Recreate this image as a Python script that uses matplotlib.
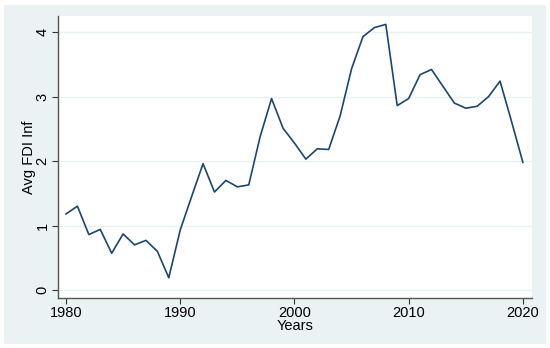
import matplotlib.pyplot as plt
from matplotlib.patches import Rectangle

# Average FDI inflows by year
years = list(range(1980, 2021))
avg_fdi = [1.18, 1.30, 0.86, 0.94, 0.57, 0.87, 0.70, 0.77, 0.60, 0.19,
           0.93, 1.45, 1.96, 1.52, 1.70, 1.60, 1.63, 2.38, 2.97, 2.51,
           2.28, 2.03, 2.19, 2.18, 2.70, 3.43, 3.93, 4.07, 4.12, 2.86,
           2.97, 3.34, 3.42, 3.16, 2.90, 2.82, 2.85, 3.00, 3.24, 2.62,
           1.98]
x_ticks = [1980, 1990, 2000, 2010, 2020]
y_ticks = [0, 1, 2, 3, 4]

plt.rcParams["font.family"] = ["Liberation Sans", "DejaVu Sans"]

bg = "#eaf2f3"
navy = "#1a476f"

fig = plt.figure(figsize=(5.5, 3.48), dpi=100)
fig.patch.set_facecolor("white")
fig.add_artist(Rectangle((4 / 550, 4 / 348), 542 / 550, 339 / 348,
                         transform=fig.transFigure, facecolor=bg,
                         edgecolor="none", zorder=-5))

ax = fig.add_axes([58 / 550, 50 / 348, 474 / 550, 282 / 348])
ax.set_facecolor("white")
ax.plot(years, avg_fdi, color=navy, linewidth=1.2)

ax.set_xlim(1979.3, 2020.8)
ax.set_ylim(-0.124, 4.25)
ax.set_xticks(x_ticks)
ax.set_yticks(y_ticks)
ax.grid(axis="y", color=bg, linewidth=1)
ax.set_axisbelow(True)

for s in ["top", "right"]:
    ax.spines[s].set_visible(False)
for s in ["left", "bottom"]:
    ax.spines[s].set_color("#555555")
    ax.spines[s].set_linewidth(1)

ax.tick_params(axis="both", colors="#333333", labelcolor="black",
               labelsize=10.5, length=4, width=0.8, pad=2)
for lab in ax.get_yticklabels():
    lab.set_rotation(90)
    lab.set_va("center")

ax.set_xlabel("Years", fontsize=10.5, labelpad=-1)
ax.set_ylabel("Avg FDI Inf", fontsize=10.5, labelpad=0)

fig.savefig("out.png", dpi=100)
